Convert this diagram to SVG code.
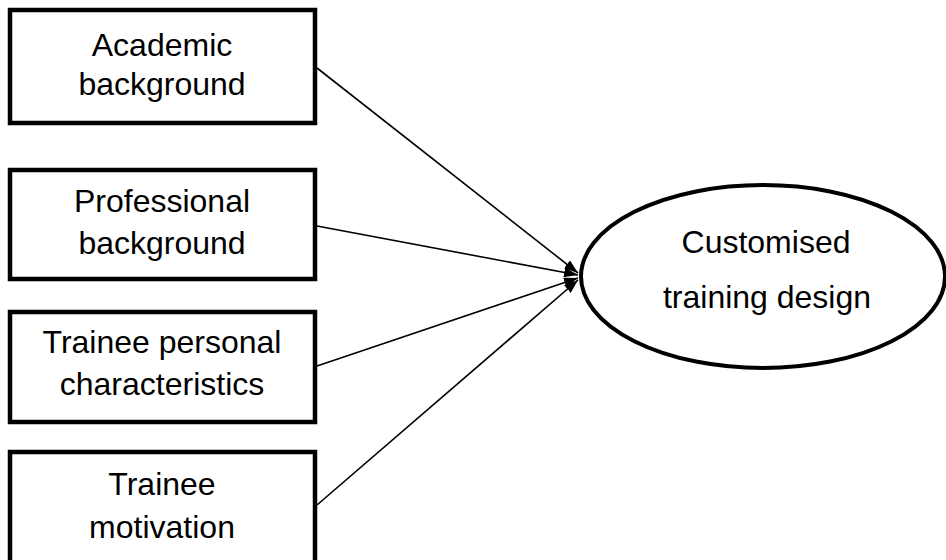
<svg xmlns="http://www.w3.org/2000/svg" width="946" height="560" viewBox="0 0 946 560">
<style>
.box{fill:#fff;stroke:#000;stroke-width:4.5}
.ell{fill:#fff;stroke:#000;stroke-width:4}
.t{font-family:"Liberation Sans",Arial,sans-serif;font-size:32px;fill:#000;text-anchor:middle}
.c{stroke:#000;stroke-width:1.6;fill:none;marker-end:url(#ah)}
</style>
<defs>
<marker id="ah" viewBox="0 0 14 10" refX="14" refY="5" markerWidth="14" markerHeight="10" markerUnits="userSpaceOnUse" orient="auto">
<path d="M0,0 L14,5 L0,10 Z" fill="#000"/>
</marker>
</defs>
<rect width="946" height="560" fill="#fff"/>
<g id="connectors">
<line class="c" x1="317" y1="68" x2="578" y2="273"/>
<line class="c" x1="317" y1="226" x2="578" y2="275"/>
<line class="c" x1="317" y1="366" x2="578" y2="278"/>
<line class="c" x1="317" y1="505" x2="578" y2="280"/>
</g>
<g id="academic">
<rect class="box" x="10" y="10" width="305" height="113"/>
<text class="t" x="162" y="56">Academic</text>
<text class="t" x="162" y="95">background</text>
</g>
<g id="professional">
<rect class="box" x="10" y="170" width="305" height="109"/>
<text class="t" x="162" y="212">Professional</text>
<text class="t" x="162" y="254">background</text>
</g>
<g id="personal">
<rect class="box" x="10" y="312" width="305" height="110"/>
<text class="t" x="162" y="353">Trainee personal</text>
<text class="t" x="162" y="395">characteristics</text>
</g>
<g id="motivation">
<rect class="box" x="10" y="452" width="305" height="120"/>
<text class="t" x="162" y="495">Trainee</text>
<text class="t" x="162" y="538">motivation</text>
</g>
<g id="customised">
<ellipse class="ell" cx="763" cy="276.5" rx="182" ry="91.5"/>
<text class="t" x="766" y="253">Customised</text>
<text class="t" x="767" y="308">training design</text>
</g>
</svg>
